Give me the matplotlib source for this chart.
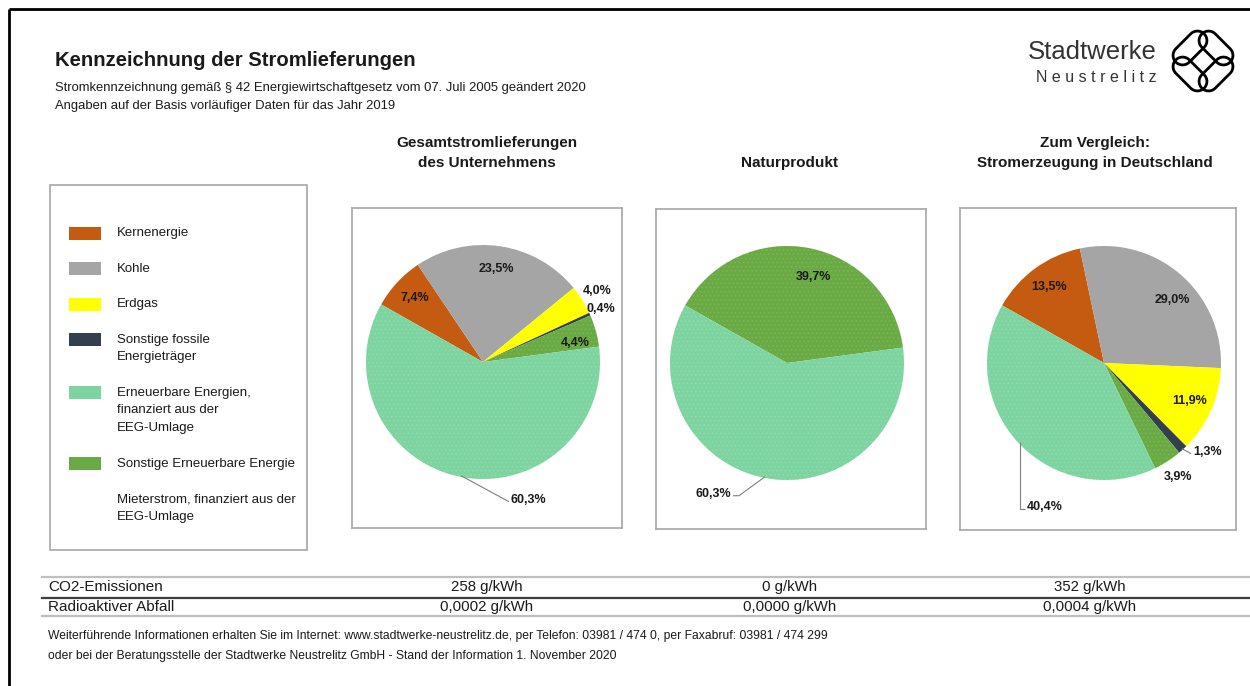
import numpy as np
import matplotlib.pyplot as plt
from matplotlib.patches import Rectangle, Polygon

plt.rcParams["font.family"] = ["Liberation Sans", "DejaVu Sans"]
plt.rcParams["hatch.linewidth"] = 0.6

W, H = 1250, 686

# --- data -------------------------------------------------------------
# pie order (clockwise from the first slice)
PIE_CATEGORIES = [
    "Kernenergie",
    "Kohle",
    "Erdgas",
    "Sonstige fossile Energieträger",
    "Sonstige Erneuerbare Energie",
    "Erneuerbare Energien, finanziert aus der EEG-Umlage",
]
SHARES_UNTERNEHMEN = [7.4, 23.5, 4.0, 0.4, 4.4, 60.3]
SHARES_NATURPRODUKT = [0.0, 0.0, 0.0, 0.0, 39.7, 60.3]
SHARES_DEUTSCHLAND = [13.5, 29.0, 11.9, 1.3, 3.9, 40.4]

PIE_TITLES = [
    "Gesamtstromlieferungen\ndes Unternehmens",
    "Naturprodukt",
    "Zum Vergleich:\nStromerzeugung in Deutschland",
]

LEGEND_LABELS = [
    "Kernenergie",
    "Kohle",
    "Erdgas",
    "Sonstige fossile\nEnergieträger",
    "Erneuerbare Energien,\nfinanziert aus der\nEEG-Umlage",
    "Sonstige Erneuerbare Energie",
    "Mieterstrom, finanziert aus der\nEEG-Umlage",
]

CO2_G_PER_KWH = [258, 0, 352]
ABFALL_G_PER_KWH = [0.0002, 0.0000, 0.0004]

# --- styles / layout ----------------------------------------------------
COLORS = {
    "Kernenergie": "#C55A11",
    "Kohle": "#A5A5A5",
    "Erdgas": "#FFFF00",
    "Sonstige fossile Energieträger": "#333F50",
    "Sonstige Erneuerbare Energie": "#6AAA44",
    "Erneuerbare Energien, finanziert aus der EEG-Umlage": "#7ED4A0",
}
HATCH_COLORS = {
    "Sonstige Erneuerbare Energie": "#7DB857",
    "Erneuerbare Energien, finanziert aus der EEG-Umlage": "#8EDBAD",
}
LEGEND_COLORS = [
    COLORS["Kernenergie"],
    COLORS["Kohle"],
    COLORS["Erdgas"],
    COLORS["Sonstige fossile Energieträger"],
    COLORS["Erneuerbare Energien, finanziert aus der EEG-Umlage"],
    COLORS["Sonstige Erneuerbare Energie"],
    None,
]

PIE_BOXES = [(352, 208, 270, 320), (656, 209, 270, 320), (960, 208, 276, 322)]
PIE_CENTERS = [(483, 362), (787, 363), (1104, 363)]
RADIUS = 117
START_ANGLE = 150.5

# label placement per slice index:
#   ("in", radius factor, angle shift)  or  ("leader", offsets, ha)
LABEL_SPECS = [
    {2: ("in", 1.15, 0), 3: ("in", 1.1, 0), 4: ("in", 0.8, -4),
     5: ("leader", [(48, -26)], "left")},
    {4: ("in", 0.77, -6), 5: ("leader", [(-26, -19), (-6, 0)], "right")},
    {1: ("in", 0.8, -7), 3: ("leader", [(9, -5)], "left"), 4: ("in", 1.16, 0),
     5: ("leader", [(0, -67), (5, 0)], "left")},
]

BORDER_GRAY = "#A6A6A6"
TEXT = "#1A1A1A"


def px_axes(fig, x, y, w, h):
    return fig.add_axes([x / W, 1 - (y + h) / H, w / W, h / H])


def fmt_pct(v):
    return f"{v:.1f}%".replace(".", ",")


def stadium(cx, cy, length, width, angle_deg, n=24):
    r = width / 2
    a = length / 2 - r
    t1 = np.linspace(-np.pi / 2, np.pi / 2, n)
    t2 = np.linspace(np.pi / 2, 3 * np.pi / 2, n)
    xs = np.concatenate([a + r * np.cos(t1), -a + r * np.cos(t2)])
    ys = np.concatenate([r * np.sin(t1), r * np.sin(t2)])
    ang = np.radians(angle_deg)
    xr = cx + xs * np.cos(ang) - ys * np.sin(ang)
    yr = cy + xs * np.sin(ang) + ys * np.cos(ang)
    return np.column_stack([xr, yr])


def draw_pie(fig, box, center, shares, spec):
    bx, by, bw, bh = box
    cx, cy = center
    ax = px_axes(fig, bx, by, bw, bh)
    colors = [COLORS[c] for c in PIE_CATEGORIES]
    wedges, _ = ax.pie(shares, colors=colors, radius=RADIUS, startangle=START_ANGLE,
                       counterclock=False, frame=True,
                       wedgeprops=dict(linewidth=0))
    for wedge, cat in zip(wedges, PIE_CATEGORIES):
        if cat in HATCH_COLORS:
            wedge.set_hatch("....")
            wedge.set_edgecolor(HATCH_COLORS[cat])
            wedge.set_linewidth(0)
    ax.set_xlim(-(cx - bx), bw - (cx - bx))
    ax.set_ylim(-(by + bh - cy), cy - by)
    ax.set_aspect("auto")
    ax.set_xticks([])
    ax.set_yticks([])
    for s in ax.spines.values():
        s.set_color(BORDER_GRAY)
        s.set_linewidth(1.2)

    for i, (wedge, v) in enumerate(zip(wedges, shares)):
        if v <= 0:
            continue
        mid_deg = (wedge.theta1 + wedge.theta2) / 2
        kind = spec.get(i, ("in", 0.8, 0))
        label = fmt_pct(v)
        if kind[0] == "in":
            r = kind[1] * RADIUS
            a = np.radians(mid_deg + kind[2])
            ax.text(r * np.cos(a), r * np.sin(a), label, ha="center", va="center",
                    fontsize=9, fontweight="bold", color=TEXT)
        else:
            mid = np.radians(mid_deg)
            x0, y0 = 0.99 * RADIUS * np.cos(mid), 0.99 * RADIUS * np.sin(mid)
            xs, ys = [x0], [y0]
            for dx, dy in kind[1]:
                xs.append(xs[-1] + dx)
                ys.append(ys[-1] + dy)
            ax.plot(xs, ys, color="#7F7F7F", lw=0.8, solid_capstyle="butt")
            ha = kind[2]
            gap = 2 if ha == "left" else -2
            ax.text(xs[-1] + gap, ys[-1] + 2, label, ha=ha, va="center",
                    fontsize=9, fontweight="bold", color=TEXT)
    return ax


fig = plt.figure(figsize=(W / 100, H / 100), dpi=100)
bg = fig.add_axes([0, 0, 1, 1])
bg.set_xlim(0, W)
bg.set_ylim(H, 0)
bg.axis("off")

# page frame
bg.plot([8.5, W], [8.5, 8.5], color="black", lw=2.0, solid_capstyle="butt")
bg.plot([8.5, 8.5], [8.5, H], color="black", lw=2.0, solid_capstyle="butt")

# header
bg.text(55, 61, "Kennzeichnung der Stromlieferungen", fontsize=14.6, fontweight="bold",
        color=TEXT, va="center")
bg.text(55, 88, "Stromkennzeichnung gemäß § 42 Energiewirtschaftgesetz vom 07. Juli 2005 geändert 2020",
        fontsize=9.4, color=TEXT, va="center")
bg.text(55, 106, "Angaben auf der Basis vorläufiger Daten für das Jahr 2019",
        fontsize=9.4, color=TEXT, va="center")

# logo
bg.text(1157, 52, "Stadtwerke", fontsize=18.5, color="#333333", ha="right", va="center")
bg.text(1157, 77, "N e u s t r e l i t z", fontsize=11.5, color="#333333", ha="right", va="center")
lc = (1203, 61)
for sx, sy, ang in [(1, -1, 45), (-1, -1, -45), (1, 1, -45), (-1, 1, 45)]:
    pts = stadium(lc[0] + sx * 13, lc[1] + sy * 13, 40, 19, ang)
    bg.add_patch(Polygon(pts, closed=True, fill=False, edgecolor="black", lw=2.0))

# pie titles
title_x = [487, 790, 1095]
for tx, title in zip(title_x, PIE_TITLES):
    y = 163 if "\n" not in title else 153
    bg.text(tx, y, title, fontsize=11, fontweight="bold", color=TEXT, ha="center",
            va="center", linespacing=1.55)

# legend
bg.add_patch(Rectangle((50, 185), 257, 365, fill=False, edgecolor=BORDER_GRAY, lw=1.2))
y = 233
line_h = 17.8
for label, color in zip(LEGEND_LABELS, LEGEND_COLORS):
    if color is not None:
        bg.add_patch(Rectangle((69, y - 6.5), 32, 13, facecolor=color, edgecolor="none"))
    nlines = label.count("\n") + 1
    bg.text(117, y - 6, label, fontsize=9.5, color=TEXT, va="top", linespacing=1.6)
    y += (nlines - 1) * line_h + 35.5

# pies
for box, center, shares, spec in zip(PIE_BOXES, PIE_CENTERS,
                                     [SHARES_UNTERNEHMEN, SHARES_NATURPRODUKT, SHARES_DEUTSCHLAND],
                                     LABEL_SPECS):
    draw_pie(fig, box, center, shares, spec)

# table
bg.plot([42, W], [577, 577], color="#BFBFBF", lw=1.6)
bg.plot([42, W], [598, 598], color="#3F3F3F", lw=1.6)
bg.plot([42, W], [616, 616], color="#BFBFBF", lw=1.6)
bg.text(48, 587, "CO2-Emissionen", fontsize=11, color=TEXT, va="center")
bg.text(48, 607, "Radioaktiver Abfall", fontsize=11, color=TEXT, va="center")
value_x = [487, 790, 1090]
for vx, co2, abf in zip(value_x, CO2_G_PER_KWH, ABFALL_G_PER_KWH):
    bg.text(vx, 587, f"{co2} g/kWh", fontsize=10.8, color=TEXT, ha="center", va="center")
    bg.text(vx, 607, f"{abf:.4f} g/kWh".replace(".", ","), fontsize=10.8, color=TEXT,
            ha="center", va="center")

# footer
bg.text(48, 636, "Weiterführende Informationen erhalten Sie im Internet: www.stadtwerke-neustrelitz.de, "
        "per Telefon: 03981 / 474 0, per Faxabruf: 03981 / 474 299", fontsize=8.7, color=TEXT, va="center")
bg.text(48, 656, "oder bei der Beratungsstelle der Stadtwerke Neustrelitz GmbH - Stand der Information "
        "1. November 2020", fontsize=8.7, color=TEXT, va="center")

fig.savefig("out.png", dpi=100)
